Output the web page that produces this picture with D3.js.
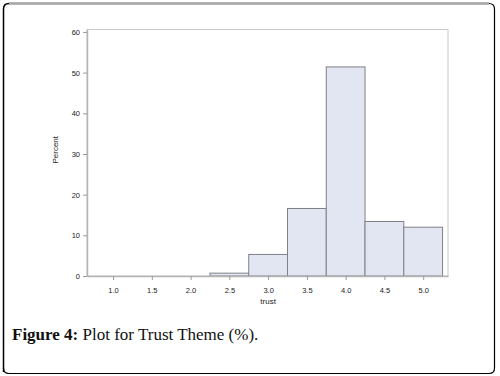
<!DOCTYPE html>
<html>
<head>
<meta charset="utf-8">
<script src="https://cdn.jsdelivr.net/npm/d3@7"></script>
<style>
  body { margin: 0; background: #fff; }
  svg { display: block; }
</style>
</head>
<body>
<div id="myChart"></div>
<script>
// histogram of trust scores, bin width 0.5
var binCenters = [2.5, 3.0, 3.5, 4.0, 4.5, 5.0];
var percents = [0.7, 5.3, 16.6, 51.4, 13.4, 12.0];
var xTicks = [1.0, 1.5, 2.0, 2.5, 3.0, 3.5, 4.0, 4.5, 5.0];
var yTicks = [0, 10, 20, 30, 40, 50, 60];
var binWidth = 0.5;

var W = 500, H = 376;
var margin = { top: 29.5, right: 52, bottom: 100, left: 87 };
var width = W - margin.left - margin.right,
    height = H - margin.top - margin.bottom;

var svg = d3.select("#myChart").append("svg")
    .attr("width", W)
    .attr("height", H);

// outer frame
svg.append("path")
    .attr("d", "M3.5,372 L3.5,9 Q3.5,3.5 9,3.5 L489,3.5")
    .attr("fill", "none").attr("stroke", "#000").attr("stroke-width", 1.5);
svg.append("path")
    .attr("d", "M9,3.5 L489,3.5")
    .attr("fill", "none").attr("stroke", "#aaa").attr("stroke-width", 2);
svg.append("path")
    .attr("d", "M489,3.5 Q494.5,3.5 494.5,9 L494.5,368 Q494.5,373.5 489,373.5 L9,373.5 Q3.5,373.5 3.5,368")
    .attr("fill", "none").attr("stroke", "#000").attr("stroke-width", 1.2);

var g = svg.append("g")
    .attr("transform", "translate(" + margin.left + "," + margin.top + ")");

var x = d3.scaleLinear().domain([0.664, 5.32]).range([0, width]);
var y = d3.scaleLinear().domain([0, 60.6]).range([height, 0]);

// plot frame
g.append("rect")
    .attr("x", 0).attr("y", 0)
    .attr("width", width).attr("height", height)
    .attr("fill", "none").attr("stroke", "#c8c8c8").attr("stroke-width", 1);

// bars
g.selectAll("rect.bar")
    .data(binCenters)
    .enter().append("rect")
    .attr("class", "bar")
    .attr("x", function (d) { return x(d - binWidth / 2); })
    .attr("width", function (d) { return x(d + binWidth / 2) - x(d - binWidth / 2); })
    .attr("y", function (d, i) { return y(percents[i]); })
    .attr("height", function (d, i) { return height - y(percents[i]); })
    .attr("fill", "#e2e6f3")
    .attr("stroke", "#7f8086")
    .attr("stroke-width", 1);

var xAxis = d3.axisBottom(x).tickValues(xTicks).tickFormat(d3.format(".1f")).tickSize(4).tickSizeOuter(0);
var yAxis = d3.axisLeft(y).tickValues(yTicks).tickFormat(d3.format("d")).tickSize(4).tickSizeOuter(0);

var gx = g.append("g")
    .attr("transform", "translate(0," + height + ")")
    .call(xAxis);
var gy = g.append("g").call(yAxis);

[gx, gy].forEach(function (a) {
    a.select(".domain").attr("stroke", "#b4b4b4").attr("stroke-width", 1.5);
    a.selectAll(".tick line").attr("stroke", "#9a9a9a");
    a.selectAll(".tick text")
        .attr("fill", "#222")
        .style("font-family", "Arial, 'Liberation Sans', sans-serif")
        .style("font-size", "7.5px");
});
gx.selectAll(".tick text").attr("dy", "1.3em");

g.append("text")
    .attr("x", x(3.0))
    .attr("y", height + 28)
    .attr("text-anchor", "middle")
    .attr("fill", "#222")
    .style("font-family", "Arial, 'Liberation Sans', sans-serif")
    .style("font-size", "8px")
    .text("trust");

g.append("text")
    .attr("transform", "translate(-29," + (height / 2 - 3) + ") rotate(-90)")
    .attr("text-anchor", "middle")
    .attr("fill", "#222")
    .style("font-family", "Arial, 'Liberation Sans', sans-serif")
    .style("font-size", "8px")
    .text("Percent");

// caption
var cap = svg.append("text")
    .attr("x", 12)
    .attr("y", 340)
    .attr("fill", "#111")
    .style("font-family", "'Liberation Serif', 'DejaVu Serif', serif")
    .style("font-size", "17px");
cap.append("tspan").attr("font-weight", "bold").text("Figure 4:");
cap.append("tspan").text(" Plot for Trust Theme (%).");
</script>
</body>
</html>
